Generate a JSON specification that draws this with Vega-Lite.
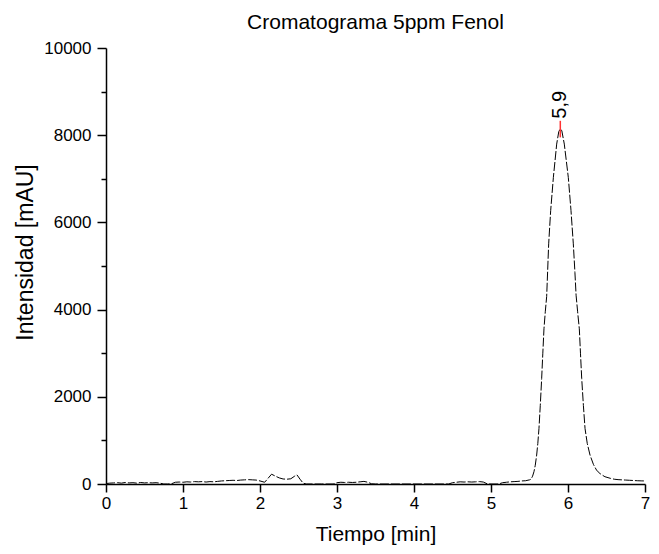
{
  "$schema": "https://vega.github.io/schema/vega-lite/v6.json",
  "width": 539,
  "height": 436,
  "autosize": {"type": "none"},
  "padding": {"left": 106, "top": 48, "right": 14, "bottom": 70},
  "background": "white",
  "title": {"text": "Cromatograma 5ppm Fenol", "font": "Liberation Sans", "fontSize": 21, "fontWeight": "normal", "color": "#000000", "anchor": "middle", "baseline": "alphabetic", "offset": 19, "dy": 30},
  "config": {"view": {"stroke": null}},
  "datasets": {
    "signal": [
      {"t": 0.0, "v": 10}, {"t": 0.05, "v": 20}, {"t": 0.1, "v": 25}, {"t": 0.15, "v": 30}, {"t": 0.2, "v": 20},
      {"t": 0.25, "v": 35}, {"t": 0.3, "v": 25}, {"t": 0.35, "v": 30}, {"t": 0.4, "v": 20}, {"t": 0.45, "v": 35},
      {"t": 0.5, "v": 25}, {"t": 0.55, "v": 30}, {"t": 0.6, "v": 25}, {"t": 0.65, "v": 30}, {"t": 0.7, "v": 20},
      {"t": 0.75, "v": 0}, {"t": 0.8, "v": 0}, {"t": 0.85, "v": 5}, {"t": 0.9, "v": 40}, {"t": 0.95, "v": 45},
      {"t": 1.0, "v": 40}, {"t": 1.05, "v": 50}, {"t": 1.1, "v": 45}, {"t": 1.15, "v": 55}, {"t": 1.2, "v": 50},
      {"t": 1.25, "v": 55}, {"t": 1.3, "v": 45}, {"t": 1.35, "v": 55}, {"t": 1.4, "v": 50}, {"t": 1.45, "v": 60},
      {"t": 1.5, "v": 70}, {"t": 1.55, "v": 75}, {"t": 1.6, "v": 80}, {"t": 1.65, "v": 85}, {"t": 1.7, "v": 80},
      {"t": 1.75, "v": 90}, {"t": 1.8, "v": 95}, {"t": 1.85, "v": 100}, {"t": 1.9, "v": 95}, {"t": 1.95, "v": 90},
      {"t": 2.0, "v": 70}, {"t": 2.06, "v": 40}, {"t": 2.1, "v": 120}, {"t": 2.15, "v": 225}, {"t": 2.2, "v": 180},
      {"t": 2.25, "v": 140}, {"t": 2.3, "v": 115}, {"t": 2.35, "v": 110}, {"t": 2.4, "v": 120}, {"t": 2.45, "v": 180},
      {"t": 2.48, "v": 210}, {"t": 2.52, "v": 110}, {"t": 2.56, "v": 20}, {"t": 2.6, "v": 0}, {"t": 2.8, "v": 0},
      {"t": 2.95, "v": 0}, {"t": 3.0, "v": 30}, {"t": 3.05, "v": 40}, {"t": 3.1, "v": 35}, {"t": 3.15, "v": 40},
      {"t": 3.2, "v": 35}, {"t": 3.25, "v": 40}, {"t": 3.3, "v": 50}, {"t": 3.35, "v": 60}, {"t": 3.4, "v": 40},
      {"t": 3.45, "v": 5}, {"t": 3.5, "v": 0}, {"t": 4.0, "v": 0}, {"t": 4.45, "v": 0}, {"t": 4.5, "v": 30},
      {"t": 4.55, "v": 40}, {"t": 4.6, "v": 50}, {"t": 4.65, "v": 45}, {"t": 4.7, "v": 50}, {"t": 4.75, "v": 45},
      {"t": 4.8, "v": 50}, {"t": 4.85, "v": 55}, {"t": 4.9, "v": 45}, {"t": 4.95, "v": 5}, {"t": 5.0, "v": 0},
      {"t": 5.1, "v": 0}, {"t": 5.15, "v": 30}, {"t": 5.2, "v": 40}, {"t": 5.25, "v": 50}, {"t": 5.3, "v": 55},
      {"t": 5.35, "v": 60}, {"t": 5.4, "v": 70}, {"t": 5.45, "v": 75}, {"t": 5.5, "v": 95}, {"t": 5.52, "v": 110},
      {"t": 5.54, "v": 180}, {"t": 5.558, "v": 282}, {"t": 5.575, "v": 430}, {"t": 5.593, "v": 664}, {"t": 5.608, "v": 930},
      {"t": 5.623, "v": 1275}, {"t": 5.64, "v": 1800}, {"t": 5.658, "v": 2420}, {"t": 5.673, "v": 3000}, {"t": 5.688, "v": 3560},
      {"t": 5.705, "v": 3950}, {"t": 5.723, "v": 4300}, {"t": 5.749, "v": 5508}, {"t": 5.775, "v": 6270}, {"t": 5.81, "v": 7032},
      {"t": 5.853, "v": 7796}, {"t": 5.88, "v": 8080}, {"t": 5.9, "v": 8150}, {"t": 5.92, "v": 8100}, {"t": 5.952, "v": 7796},
      {"t": 6.004, "v": 7032}, {"t": 6.039, "v": 6270}, {"t": 6.069, "v": 5508}, {"t": 6.09, "v": 4850}, {"t": 6.105, "v": 4330},
      {"t": 6.125, "v": 3950}, {"t": 6.147, "v": 3560}, {"t": 6.162, "v": 3000}, {"t": 6.178, "v": 2420}, {"t": 6.2, "v": 1800},
      {"t": 6.221, "v": 1275}, {"t": 6.25, "v": 930}, {"t": 6.286, "v": 664}, {"t": 6.33, "v": 450}, {"t": 6.37, "v": 320},
      {"t": 6.42, "v": 230}, {"t": 6.48, "v": 167}, {"t": 6.55, "v": 130}, {"t": 6.6, "v": 110}, {"t": 6.65, "v": 100},
      {"t": 6.7, "v": 95}, {"t": 6.75, "v": 90}, {"t": 6.8, "v": 85}, {"t": 6.85, "v": 80}, {"t": 6.9, "v": 75},
      {"t": 6.95, "v": 72}, {"t": 7.0, "v": 70}
    ],
    "peaks": [{"t": 5.9, "v": 8150, "label": "5,9"}]
  },
  "layer": [
    {
      "data": {"name": "signal"},
      "mark": {"type": "line", "color": "#000000", "strokeWidth": 1, "strokeDash": [9, 2], "clip": true},
      "encoding": {
        "x": {
          "field": "t", "type": "quantitative",
          "scale": {"domain": [0, 7], "nice": false, "zero": false},
          "axis": {
            "title": "Tiempo [min]",
            "values": [0, 0.5, 1, 1.5, 2, 2.5, 3, 3.5, 4, 4.5, 5, 5.5, 6, 6.5, 7],
            "labelExpr": "datum.value % 1 === 0 ? format(datum.value, 'd') : ''",
            "grid": false,
            "domainColor": "#000000", "domainWidth": 1.5,
            "tickColor": "#000000", "tickWidth": 1.5,
            "tickSize": {"condition": {"test": "datum.value % 1 === 0", "value": 8}, "value": 5},
            "labelFont": "Liberation Sans", "labelFontSize": 17, "labelColor": "#000000", "labelPadding": 3,
            "labelFlush": false, "labelOverlap": false,
            "titleFont": "Liberation Sans", "titleFontSize": 21, "titleFontWeight": "normal", "titleColor": "#000000", "titlePadding": 12
          }
        },
        "y": {
          "field": "v", "type": "quantitative",
          "scale": {"domain": [0, 10000], "nice": false},
          "axis": {
            "title": "Intensidad [mAU]",
            "values": [0, 1000, 2000, 3000, 4000, 5000, 6000, 7000, 8000, 9000, 10000],
            "labelExpr": "datum.value % 2000 === 0 ? format(datum.value, 'd') : ''",
            "grid": false,
            "domainColor": "#000000", "domainWidth": 1.5,
            "tickColor": "#000000", "tickWidth": 1.5,
            "tickSize": {"condition": {"test": "datum.value % 2000 === 0", "value": 9}, "value": 5},
            "labelFont": "Liberation Sans", "labelFontSize": 17, "labelColor": "#000000", "labelPadding": 6,
            "labelFlush": false, "labelOverlap": false,
            "titleFont": "Liberation Sans", "titleFontSize": 23, "titleFontWeight": "normal", "titleColor": "#000000", "titlePadding": 6, "titleY": 204
          }
        }
      }
    },
    {
      "data": {"name": "peaks"},
      "mark": {"type": "rule", "color": "#ff3333", "strokeWidth": 1.5},
      "encoding": {
        "x": {"field": "t", "type": "quantitative"},
        "y": {"datum": 7950},
        "y2": {"datum": 8330}
      }
    },
    {
      "data": {"name": "peaks"},
      "mark": {"type": "text", "angle": 270, "align": "left", "baseline": "middle", "font": "Liberation Sans", "fontSize": 20, "color": "#000000"},
      "encoding": {
        "x": {"field": "t", "type": "quantitative"},
        "y": {"datum": 8380},
        "text": {"field": "label"}
      }
    }
  ]
}
